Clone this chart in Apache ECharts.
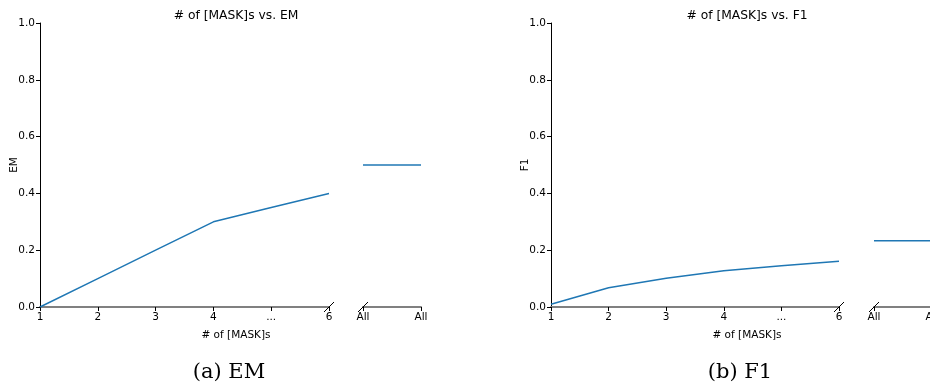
<!DOCTYPE html>
<html>
<head>
<meta charset="utf-8">
<script src="https://cdn.jsdelivr.net/npm/echarts@6/dist/echarts.min.js"></script>
<style>
  html, body { margin: 0; padding: 0; background: #fff; }
  #chart { width: 930px; height: 383px; }
</style>
</head>
<body>
<div id="chart"></div>
<script>
// x categories for the main plots and the "All" inset
const maskCounts = ['1', '2', '3', '4', '...', '6'];
const allLabels = ['All', 'All'];

// exact match scores
const emValues = [0.0, 0.1, 0.2, 0.3, 0.35, 0.4];
const emAll = [0.5, 0.5];

// F1 scores
const f1Values = [0.01, 0.068, 0.101, 0.128, 0.145, 0.161];
const f1All = [0.233, 0.233];

// y scale
const yMin = 0, yMax = 1, yStep = 0.2;

const FONT = 'DejaVu Sans';
const SERIF = 'DejaVu Serif';
const LINE = '#1f77b4';

const chart = echarts.init(document.getElementById('chart'), null, { renderer: 'canvas' });

function grid(left, width) {
  return { left: left, width: width, top: 23, height: 284, containLabel: false, outerBoundsMode: 'none' };
}

function xAxis(gridIndex, data) {
  return {
    type: 'category', gridIndex: gridIndex, data: data, boundaryGap: false,
    axisLine: { show: true, lineStyle: { color: '#808080', width: 2 } },
    axisTick: { show: true, length: 4, interval: 0, lineStyle: { color: '#000', width: 1 } },
    axisLabel: { color: '#000', fontSize: 10.5, fontFamily: FONT, margin: 5, interval: 0, hideOverlap: false },
    splitLine: { show: false }
  };
}

function yAxis(gridIndex, name, visible) {
  return {
    type: 'value', gridIndex: gridIndex, min: yMin, max: yMax, interval: yStep,
    show: visible,
    name: name, nameLocation: 'middle', nameGap: 20, nameRotate: 90, nameMoveOverlap: false,
    nameTextStyle: { color: '#000', fontSize: 10.5, fontFamily: FONT },
    axisLine: { show: true, lineStyle: { color: '#000', width: 1 } },
    axisTick: { show: true, length: 4, lineStyle: { color: '#000', width: 1 } },
    axisLabel: { color: '#000', fontSize: 10.5, fontFamily: FONT, margin: 5,
                 formatter: v => v.toFixed(1) },
    splitLine: { show: false }
  };
}

function line(idx, data) {
  return {
    type: 'line', xAxisIndex: idx, yAxisIndex: idx, data: data,
    showSymbol: false, symbol: 'none', animation: false,
    lineStyle: { color: LINE, width: 1.5 }
  };
}

function text(t, x, y, size, family) {
  return {
    text: t, left: x, top: y, textAlign: 'center',
    textStyle: { color: '#000', fontSize: size, fontFamily: family, fontWeight: 'normal' }
  };
}

chart.setOption({
  backgroundColor: '#fff',
  animation: false,
  title: [
    text('# of [MASK]s vs. EM', 231, 5, 12.3, FONT),
    text('# of [MASK]s vs. F1', 742, 5, 12.3, FONT),
    text('# of [MASK]s', 231, 325, 10.5, FONT),
    text('# of [MASK]s', 742, 325, 10.5, FONT),
    text('(a) EM', 224, 357, 21, SERIF),
    text('(b) F1', 735, 357, 21, SERIF)
  ],
  grid: [grid(40, 289), grid(363, 58), grid(551, 288), grid(874, 58)],
  xAxis: [xAxis(0, maskCounts), xAxis(1, allLabels), xAxis(2, maskCounts), xAxis(3, allLabels)],
  yAxis: [yAxis(0, 'EM', true), yAxis(1, '', false), yAxis(2, 'F1', true), yAxis(3, '', false)],
  series: [line(0, emValues), line(1, emAll), line(2, f1Values), line(3, f1All)]
});

// diagonal break marks where each main axis ends and each inset axis starts
const marks = [];
[[0, maskCounts.length - 1], [1, 0], [2, maskCounts.length - 1], [3, 0]].forEach(([i, c]) => {
  const p = chart.convertToPixel({ xAxisIndex: i, yAxisIndex: i }, [c, yMin]);
  marks.push({
    type: 'line', z: 100,
    shape: { x1: p[0] - 5, y1: p[1] + 5, x2: p[0] + 5, y2: p[1] - 5 },
    style: { stroke: '#000', lineWidth: 1 }
  });
});
chart.setOption({ graphic: marks });
</script>
</body>
</html>
